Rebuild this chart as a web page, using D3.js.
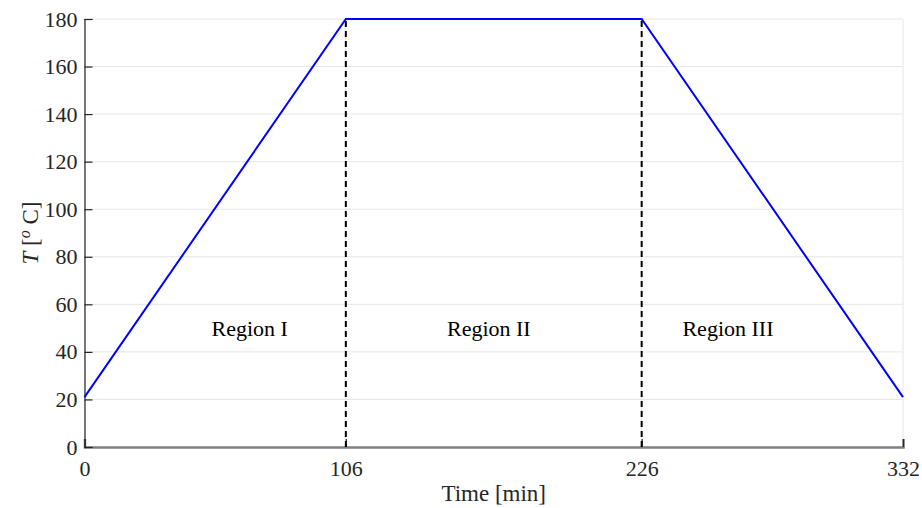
<!DOCTYPE html>
<html><head><meta charset="utf-8">
<script src="https://cdn.jsdelivr.net/npm/d3@7"></script>
<style>body{margin:0;background:#fff}svg{display:block}text{font-family:"Liberation Serif","DejaVu Serif",serif;}</style>
</head><body><svg id="c" width="922" height="508"></svg>
<script>
const timePts = [0, 106, 226, 332];
const tempPts = [21, 180, 180, 21];
const xTicks = [0, 106, 226, 332];
const yTicks = [0, 20, 40, 60, 80, 100, 120, 140, 160, 180];
const dividers = [106, 226];
const regionNames = ["Region I", "Region II", "Region III"];
const regionX = [67, 164, 261];
const regionY = [50, 50, 50];

const svg = d3.select("#c");
const m = {l: 84.5, r: 903, t: 19, b: 447};
const x = d3.scaleLinear().domain([0, 332]).range([m.l, m.r]);
const y = d3.scaleLinear().domain([0, 180]).range([m.b, m.t]);

// grid
svg.append("g").selectAll("line").data(yTicks).join("line")
  .attr("x1", m.l).attr("x2", m.r).attr("y1", d => y(d)).attr("y2", d => y(d))
  .attr("stroke", "#e6e6e6").attr("stroke-width", 1);
svg.append("g").selectAll("line").data(xTicks).join("line")
  .attr("y1", m.t).attr("y2", m.b).attr("x1", d => x(d)).attr("x2", d => x(d))
  .attr("stroke", "#e6e6e6").attr("stroke-width", 1);

// axes
const ax = svg.append("g").attr("transform", `translate(0,${m.b})`)
  .call(d3.axisBottom(x).tickValues(xTicks).tickSize(-8).tickPadding(13).tickFormat(d3.format("d")));
const ay = svg.append("g").attr("transform", `translate(${m.l},0)`)
  .call(d3.axisLeft(y).tickValues(yTicks).tickSize(-8).tickPadding(7).tickFormat(d3.format("d")));
[ax, ay].forEach(g => {
  g.select(".domain").attr("stroke", "#262626").attr("stroke-width", 1.2);
  g.selectAll(".tick line").attr("stroke", "#262626").attr("stroke-width", 1.2);
  g.selectAll(".tick text").attr("fill", "#262626").style("font-size", "22px").style("font-family", '"Liberation Serif",serif');
});
ax.select(".domain").attr("stroke", "#808080").attr("stroke-width", 2.5);

// dashed dividers
svg.append("g").selectAll("line").data(dividers).join("line")
  .attr("x1", d => x(d)).attr("x2", d => x(d)).attr("y1", y(0)).attr("y2", y(180))
  .attr("stroke", "#000").attr("stroke-width", 2).attr("stroke-dasharray", "6,4");

// line
svg.append("path").datum(timePts.map((t, i) => [t, tempPts[i]]))
  .attr("d", d3.line().x(d => x(d[0])).y(d => y(d[1])))
  .attr("fill", "none").attr("stroke", "#0000ff").attr("stroke-width", 2);

// region labels
svg.append("g").selectAll("text").data(regionNames).join("text")
  .attr("x", (d, i) => x(regionX[i])).attr("y", (d, i) => y(regionY[i]))
  .attr("text-anchor", "middle").attr("dominant-baseline", "central")
  .style("font-size", "22px").attr("fill", "#000").text(d => d);

// axis labels
svg.append("text").attr("x", (m.l + m.r) / 2).attr("y", 501).attr("text-anchor", "middle")
  .style("font-size", "23px").attr("fill", "#262626").text("Time [min]");
const yl = svg.append("text").attr("transform", `translate(38,${(m.t + m.b) / 2}) rotate(-90)`)
  .attr("text-anchor", "middle").style("font-size", "23px").attr("fill", "#262626");
yl.append("tspan").style("font-style", "italic").text("T");
yl.append("tspan").text(" [");
yl.append("tspan").style("font-style", "italic").style("font-size", "16px").attr("dy", -8).text("o");
yl.append("tspan").attr("dy", 8).text(" C]");
</script></body></html>
